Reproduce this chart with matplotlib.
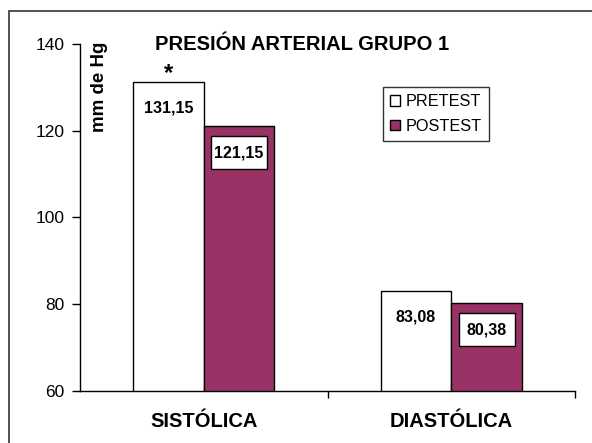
import numpy as np
import matplotlib
matplotlib.use('Agg')
import matplotlib.pyplot as plt
import matplotlib.patches as mpatches
import matplotlib.transforms as mtransforms

plt.rcParams['font.family'] = ['Liberation Sans', 'DejaVu Sans']

# Data
categories = ['SISTÓLICA', 'DIASTÓLICA']
pretest = [131.15, 83.08]
postest = [121.15, 80.38]
series_names = ['PRETEST', 'POSTEST']
pre_labels = ['131,15', '83,08']
post_labels = ['121,15', '80,38']
yticks = [60, 80, 100, 120, 140]

plum = '#993366'
w = 0.285
x = np.arange(len(categories))

fig = plt.figure(figsize=(5.92, 4.43), dpi=100)
ax = fig.add_axes([80 / 592, 1 - 391 / 443, 495 / 592, 347 / 443])

b1 = ax.bar(x - w / 2, pretest, w, color='white', edgecolor='black', linewidth=1, label=series_names[0])
b2 = ax.bar(x + w / 2, postest, w, color=plum, edgecolor='black', linewidth=1, label=series_names[1])

ax.set_ylim(60, 140)
ax.set_xlim(-0.5, 1.5)
ax.set_yticks(yticks)
ax.tick_params(axis='y', labelsize=12.5, length=6, width=1, pad=5)
ax.set_xticks(x)
ax.set_xticklabels(categories, fontsize=14.5, fontweight='bold')
ax.tick_params(axis='x', length=0, pad=15)
ax.set_xticks([0.5, 1.5], minor=True)
ax.tick_params(axis='x', which='minor', length=5, width=1)
for s in ['top', 'right']:
    ax.spines[s].set_visible(False)
for s in ['left', 'bottom']:
    ax.spines[s].set_linewidth(1)

# value labels
px = 72 / fig.dpi
for i in range(len(categories)):
    ax.annotate(pre_labels[i], (x[i] - w / 2, pretest[i]), xytext=(0, -26 * px),
                textcoords='offset points', ha='center', va='center',
                fontsize=11.5, fontweight='bold')
    tr = mtransforms.Affine2D().translate(0, -27) + \
        mtransforms.ScaledTranslation(x[i] + w / 2, postest[i], ax.transData)
    box = mpatches.Rectangle((-28, -16.5), 56, 33, transform=tr, facecolor='white',
                             edgecolor='black', linewidth=1, zorder=3, clip_on=False)
    ax.add_artist(box)
    ax.annotate(post_labels[i], (x[i] + w / 2, postest[i]), xytext=(0, -27 * px),
                textcoords='offset points', ha='center', va='center',
                fontsize=11.5, fontweight='bold', zorder=4)

# asterisk over pretest systolic
ax.annotate('*', (x[0] - w / 2, pretest[0]), xytext=(0, 9 * px), textcoords='offset points',
            ha='center', va='center', fontsize=17, fontweight='bold')

fig.text(302 / 592, 1 - 45 / 443, 'PRESIÓN ARTERIAL GRUPO 1', ha='center', va='center',
         fontsize=14.5, fontweight='bold')
fig.text(100 / 592, 1 - 87 / 443, 'mm de Hg', rotation=90, ha='center', va='center',
         fontsize=13.5, fontweight='bold')

leg = fig.legend(handles=[b1, b2], loc='upper left', bbox_to_anchor=(383 / 592, 1 - 87 / 443),
                 fontsize=11.7, frameon=True, fancybox=False, shadow=False,
                 handlelength=0.6, handleheight=0.6, handletextpad=0.35,
                 borderpad=0.45, labelspacing=0.6, borderaxespad=0)
leg.get_frame().set_edgecolor('black')
leg.get_frame().set_linewidth(1)

# outer chart border (only left/top visible)
fig.patches.append(mpatches.Rectangle((9 / 592, -0.2), 1.2, 1.2 - 11 / 443, transform=fig.transFigure,
                                      fill=False, edgecolor='#333333', linewidth=1.2))

fig.savefig('out.png', dpi=100)
